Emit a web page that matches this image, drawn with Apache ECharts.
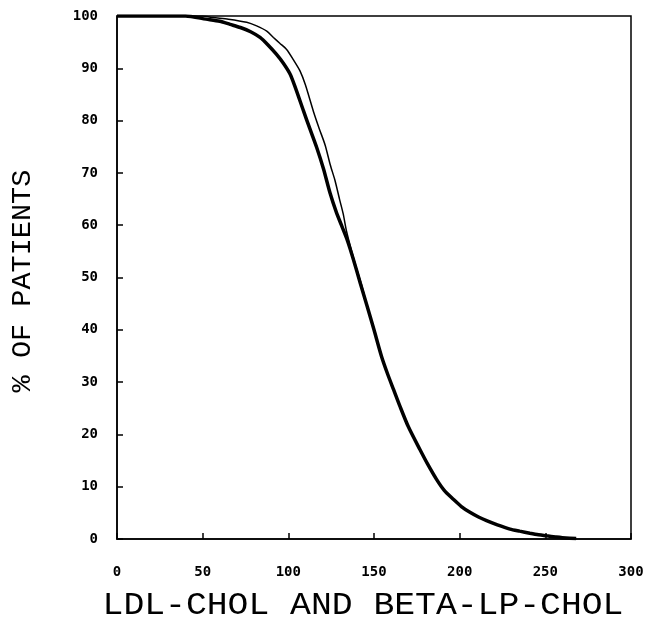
<!DOCTYPE html>
<html>
<head>
<meta charset="utf-8">
<script src="https://cdn.jsdelivr.net/npm/echarts@6/dist/echarts.min.js"></script>
<style>html,body{margin:0;padding:0;background:#fff}#c{width:658px;height:632px}</style>
</head>
<body>
<div id="c"></div>
<script>
var xTitle = 'LDL-CHOL AND BETA-LP-CHOL';
var yTitle = '% OF PATIENTS';
var xTicks = [0, 50, 100, 150, 200, 250, 300];
var yTicks = [0, 10, 20, 30, 40, 50, 60, 70, 80, 90, 100];

// thick curve (LDL-CHOL): [value, % of patients]
var ldlX = [0, 40, 52, 60, 66, 72, 78, 83.5, 88, 93, 97, 101, 104, 108.8, 112.5, 116.5, 120.5, 124.3, 128, 131, 134, 137, 140, 142, 146, 150, 154.4, 158, 161.5, 165, 170, 176.8, 181, 186.5, 191, 196.3, 201, 206, 211, 215.7, 222, 229.4, 235, 241, 246, 250.8, 256, 262, 268];
var ldlY = [100, 100, 99.4, 99, 98.4, 97.8, 97, 95.9, 94.5, 92.7, 91, 88.9, 86.4, 81.9, 78.5, 74.9, 70.8, 66.2, 62.5, 60, 57.5, 54.5, 51.2, 48.9, 44.5, 40, 34.9, 31.5, 28.5, 25.5, 21.5, 17.1, 14.5, 11.4, 9.3, 7.6, 6.2, 5.1, 4.2, 3.5, 2.7, 1.9, 1.5, 1.1, 0.8, 0.6, 0.4, 0.2, 0.1];

// thin curve (BETA-LP-CHOL)
var betaX = [0, 50, 56, 65, 75.7, 81.5, 87.4, 91.3, 95, 99, 103, 106.8, 110, 114.6, 118, 121.5, 124.5, 127.2, 130, 132, 134, 137, 140, 142.5, 146, 150, 154.4, 158, 161.5, 165, 170, 176.8, 181, 186.5, 191, 196.3, 201, 206, 211, 215.7, 222, 229.4, 235, 241, 246, 250.8, 256, 262, 268];
var betaY = [100, 100, 99.7, 99.4, 98.8, 98.1, 97.1, 95.9, 94.8, 93.6, 91.6, 89.5, 86.8, 81.8, 78.5, 75.3, 71.5, 68.6, 64.8, 62.2, 58.8, 55, 51.5, 48.9, 44.5, 40, 34.9, 31.5, 28.5, 25.5, 21.5, 17.1, 14.5, 11.4, 9.3, 7.6, 6.2, 5.1, 4.2, 3.5, 2.7, 1.9, 1.5, 1.1, 0.8, 0.6, 0.4, 0.2, 0.1];

function zip(a, b) { return a.map(function (v, i) { return [v, b[i]]; }); }

var chart = echarts.init(document.getElementById('c'), null, { renderer: 'canvas' });
var font = 'DejaVu Sans Mono';
var tfont = 'Liberation Mono';
chart.setOption({
  backgroundColor: '#fff',
  animation: false,
  grid: { left: 117, right: 27, top: 16, bottom: 93, show: true, borderColor: '#000', borderWidth: 1.5, backgroundColor: 'transparent' },
  xAxis: {
    type: 'value', min: 0, max: 300, interval: 50,
    axisLine: { show: true, lineStyle: { color: '#000', width: 1.5 } },
    axisTick: { show: true, inside: true, length: 6, lineStyle: { color: '#000', width: 1.5 } },
    axisLabel: { color: '#000', fontFamily: font, fontSize: 14, fontWeight: 'bold', margin: 26,
      formatter: function (v) { return xTicks.indexOf(v) >= 0 ? String(v) : ''; } },
    splitLine: { show: false }
  },
  yAxis: {
    type: 'value', min: 0, max: 100, interval: 10,
    axisLine: { show: true, lineStyle: { color: '#000', width: 1.5 } },
    axisTick: { show: true, inside: true, length: 6, lineStyle: { color: '#000', width: 1.5 } },
    axisLabel: { color: '#000', fontFamily: font, fontSize: 14, fontWeight: 'bold', margin: 19,
      formatter: function (v) { return yTicks.indexOf(v) >= 0 ? String(v) : ''; } },
    splitLine: { show: false }
  },
  graphic: [
    { type: 'text', x: 363, y: 606, scaleX: 1.12, style: { text: xTitle, font: '31px "' + tfont + '"', fill: '#000', textAlign: 'center', textVerticalAlign: 'middle' } },
    { type: 'text', x: 23, y: 281, rotation: Math.PI / 2, scaleX: 1.02, style: { text: yTitle, font: '28px "' + tfont + '"', fill: '#000', textAlign: 'center', textVerticalAlign: 'middle' } }
  ],
  series: [
    { type: 'line', name: 'BETA-LP-CHOL', data: zip(betaX, betaY), showSymbol: false, smooth: 0.25, lineStyle: { color: '#000', width: 1.5 }, z: 3 },
    { type: 'line', name: 'LDL-CHOL', data: zip(ldlX, ldlY), showSymbol: false, smooth: 0.25, lineStyle: { color: '#000', width: 3.5 }, z: 4 }
  ]
});
</script>
</body>
</html>
